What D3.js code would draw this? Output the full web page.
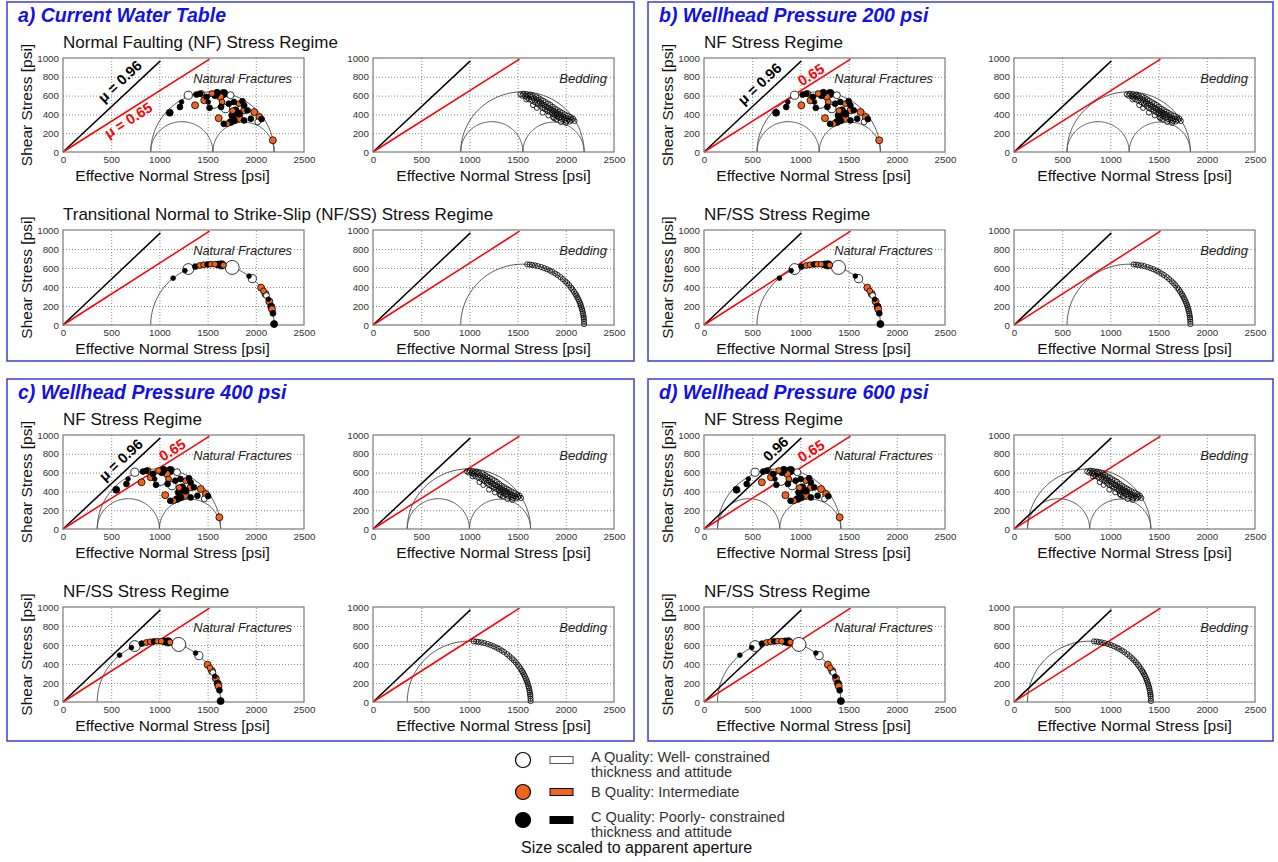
<!DOCTYPE html>
<html>
<head>
<meta charset="utf-8">
<script src="https://cdn.jsdelivr.net/npm/d3@7"></script>
<style>
  body { margin: 0; background: #fff; }
  text { font-family: Arial, "Liberation Sans", sans-serif; }
</style>
</head>
<body>
<svg id="fig" width="1278" height="862"></svg>
<script>
// ---- data ----
const panelTitles = ["a) Current Water Table", "b) Wellhead Pressure 200 psi",
                     "c) Wellhead Pressure 400 psi", "d) Wellhead Pressure 600 psi"];
const regimeTitles = [
  ["Normal Faulting (NF) Stress Regime", "Transitional Normal to Strike-Slip (NF/SS) Stress Regime"],
  ["NF Stress Regime", "NF/SS Stress Regime"],
  ["NF Stress Regime", "NF/SS Stress Regime"],
  ["NF Stress Regime", "NF/SS Stress Regime"]
];
// effective principal stresses [s3, s2, s1] per panel (psi)
const panelStress = [[910, 1555, 2190], [550, 1195, 1830], [355, 1000, 1635], [140, 785, 1420]];
// drop in effective normal stress relative to panel a (psi)
const panelShift = [0, 360, 555, 770];

const xTicks = [0, 500, 1000, 1500, 2000, 2500];
const yTicks = [0, 200, 400, 600, 800, 1000];
const frictionMu = [0.96, 0.65];
const frictionEnd = [1010, 1520];   // normal stress where each line stops

// natural fractures, NF regime (panel a): [normal stress, shear stress, quality, aperture]
const fracNF = [
  [1300, 604, "A", 1.7], [1563, 532, "A", 4.2], [1686, 461, "A", 1.7], [1738, 604, "A", 1.25],
  [2020, 320, "A", 0.87],
  [1437, 622, "B", 0.87], [1465, 550, "B", 1.25], [1370, 497, "B", 1.25], [1545, 622, "B", 0.87],
  [1633, 586, "B", 1.25], [1650, 532, "B", 0.87], [1808, 372, "B", 2.8], [1879, 443, "B", 1.25],
  [1984, 425, "B", 1.25], [2037, 372, "B", 1.25], [1703, 300, "B", 0.87], [1615, 360, "B", 1.25],
  [1826, 514, "B", 0.87], [1760, 440, "B", 0.87], [2177, 125, "B", 1.25],
  [1384, 611, "C", 0.87], [1489, 586, "C", 0.87], [1507, 532, "C", 0.56], [1213, 479, "C", 0.87],
  [1230, 532, "C", 0.56], [1107, 418, "C", 1.25], [1580, 604, "C", 1.25], [1668, 622, "C", 1.7],
  [1598, 630, "C", 1.25], [1420, 620, "C", 0.87], [1773, 532, "C", 0.87], [1720, 514, "C", 0.87],
  [1791, 443, "C", 1.25], [1826, 407, "C", 1.25], [1756, 390, "C", 1.25], [1914, 443, "C", 0.87],
  [1949, 354, "C", 0.87], [1879, 336, "C", 0.87], [1773, 336, "C", 1.25], [1668, 300, "C", 0.87],
  [1738, 318, "C", 1.25], [1861, 540, "C", 0.87], [1879, 496, "C", 0.87], [1640, 480, "C", 0.87],
  [2060, 350, "C", 0.87], [1520, 470, "C", 0.87]
];
// natural fractures, NF/SS regime (panel a)
const fracSS = [
  [1142, 493, "C", 0.56], [1265, 573, "C", 0.56], [1300, 589, "A", 3.0], [1372, 615, "C", 0.87],
  [1420, 627, "B", 0.87], [1460, 634, "B", 0.87], [1500, 638, "C", 0.87], [1535, 640, "B", 0.87],
  [1575, 640, "B", 0.87], [1610, 637, "C", 1.25], [1645, 633, "C", 1.7], [1665, 630, "B", 0.87],
  [1755, 606, "A", 5.0], [1930, 515, "C", 0.56], [1964, 488, "A", 1.7], [2055, 393, "B", 1.25],
  [2080, 359, "B", 0.87], [2100, 327, "B", 1.25], [2110, 310, "A", 0.87], [2130, 271, "C", 0.56],
  [2140, 248, "B", 1.25], [2160, 194, "C", 1.25], [2168, 166, "B", 1.25], [2178, 123, "C", 0.87],
  [2190, 10, "C", 1.25]
];
// bedding planes, NF regime (panel a): [normal stress, shear stress]
const bedNF = [
  [1530, 612], [1550, 600], [1560, 620], [1580, 595], [1590, 615], [1600, 580], [1610, 600],
  [1620, 560], [1630, 610], [1640, 585], [1650, 545], [1655, 600], [1670, 570], [1680, 530],
  [1690, 590], [1700, 555], [1710, 510], [1715, 575], [1725, 535], [1735, 490], [1740, 560],
  [1750, 515], [1760, 470], [1765, 545], [1775, 500], [1785, 455], [1790, 530], [1800, 480],
  [1810, 440], [1815, 515], [1825, 465], [1835, 425], [1840, 500], [1850, 450], [1860, 410],
  [1865, 480], [1875, 435], [1885, 395], [1890, 460], [1900, 420], [1910, 380], [1915, 445],
  [1925, 405], [1935, 365], [1940, 430], [1950, 390], [1960, 350], [1965, 415], [1975, 375],
  [1985, 340], [1990, 400], [2000, 360], [2010, 330], [2020, 385], [2030, 350], [2040, 325],
  [2050, 370], [2060, 340], [2075, 355], [2090, 330], [1900, 350], [1870, 370], [1950, 320],
  [2000, 310], [1700, 470], [1760, 420], [1820, 390], [1880, 360], [1590, 560], [1660, 500]
];
// bedding planes, NF/SS regime (panel a)
const bedSS = [
  [1600, 638], [1625, 636], [1650, 632], [1680, 627], [1710, 620], [1745, 610], [1775, 599],
  [1805, 587], [1835, 573], [1860, 560], [1890, 542], [1915, 526], [1945, 504], [1970, 483],
  [1995, 460], [2015, 440], [2035, 418], [2055, 393], [2070, 373], [2085, 351], [2100, 327],
  [2110, 310], [2120, 291], [2130, 271], [2140, 248], [2148, 228], [2155, 209], [2162, 187],
  [2168, 166], [2173, 147], [2178, 123], [2182, 101], [2185, 80], [2187, 62], [2189, 36],
  [2190, 10]
];

// ---- layout ----
const W = 1278, H = 862;
const panels = [[7, 2, 627, 359], [648, 2, 625, 359], [7, 379, 627, 362], [648, 379, 625, 362]];
const plotW = 241;
const subplots = [
  { x: 56, y: 56, h: 94, kind: "frac", row: 0 },
  { x: 366, y: 56, h: 94, kind: "bed", row: 0 },
  { x: 56, y: 228, h: 95, kind: "frac", row: 1 },
  { x: 366, y: 228, h: 95, kind: "bed", row: 1 }
];
// friction-line labels, placed in data units of the NF fracture plot
const muLabels = [
  [["μ = 0.96", 590, 750], ["μ = 0.65", 678, 338]],
  [["μ = 0.96", 577, 725], ["0.65", 1110, 821]],
  [["μ = 0.96", 600, 735], ["0.65", 1134, 840]],
  [["0.96", 744, 851], ["0.65", 1111, 830]]
];
const qualityFill = { A: "#ffffff", B: "#f0641e", C: "#000000" };
const lineColor = ["#000000", "#ff0000"];
const fontFam = "Arial, 'Liberation Sans', sans-serif";

const svg = d3.select("#fig");
svg.append("rect").attr("width", W).attr("height", H).attr("fill", "#fff");

const rScale = d3.scaleSqrt().domain([0, 5]).range([0, 7]);

function drawPlot(g, pi, sp) {
  const h = sp.h;
  const x = d3.scaleLinear().domain([0, 2500]).range([0, plotW]);
  const y = d3.scaleLinear().domain([0, 1000]).range([h, 0]);
  const pg = g.append("g").attr("transform", `translate(${sp.x},${sp.y})`);

  // dotted grid
  pg.append("g").attr("transform", `translate(0,${h})`)
    .call(d3.axisBottom(x).tickValues([500, 1000, 1500, 2000]).tickSize(-h).tickFormat(""))
    .call(a => a.select(".domain").remove())
    .call(a => a.selectAll("line").attr("stroke", "#8a8a8a").attr("stroke-dasharray", "1,2"));
  pg.append("g")
    .call(d3.axisLeft(y).tickValues([200, 400, 600, 800]).tickSize(-plotW).tickFormat(""))
    .call(a => a.select(".domain").remove())
    .call(a => a.selectAll("line").attr("stroke", "#8a8a8a").attr("stroke-dasharray", "1,2"));

  // tick labels
  pg.append("g").attr("transform", `translate(0,${h})`)
    .call(d3.axisBottom(x).tickValues(xTicks).tickFormat(d3.format("d")).tickSize(0).tickPadding(4))
    .call(a => a.select(".domain").remove())
    .call(a => a.selectAll("text").attr("font-size", 9.8).attr("fill", "#333").attr("font-family", fontFam));
  pg.append("g")
    .call(d3.axisLeft(y).tickValues(yTicks).tickFormat(d3.format("d")).tickSize(0).tickPadding(4))
    .call(a => a.select(".domain").remove())
    .call(a => a.selectAll("text").attr("font-size", 9.8).attr("fill", "#333").attr("font-family", fontFam));

  // Mohr circles
  const [s3, s2, s1] = panelStress[pi];
  const pairs = sp.row === 0 ? [[s3, s1], [s3, s2], [s2, s1]] : [[s3, s1]];
  const line = d3.line().x(d => x(d[0])).y(d => y(d[1]));
  pairs.forEach(([lo, hi]) => {
    const c = (lo + hi) / 2, r = (hi - lo) / 2;
    const pts = d3.range(0, 181, 2).map(a => [c + r * Math.cos(a * Math.PI / 180), r * Math.sin(a * Math.PI / 180)]);
    pg.append("path").attr("d", line(pts)).attr("fill", "none")
      .attr("stroke", "#555").attr("stroke-width", 1);
  });

  // friction lines
  frictionMu.forEach((mu, i) => {
    pg.append("path").attr("d", line([[0, 0], [frictionEnd[i], mu * frictionEnd[i]]]))
      .attr("fill", "none").attr("stroke", lineColor[i]).attr("stroke-width", 1.5);
  });

  // frame
  pg.append("rect").attr("width", plotW).attr("height", h)
    .attr("fill", "none").attr("stroke", "#7a7a7a").attr("stroke-width", 1.2);

  const shift = panelShift[pi];
  if (sp.kind === "frac") {
    const src = sp.row === 0 ? fracNF : fracSS;
    const pts = src.slice().sort((a, b) => b[3] - a[3]);
    pg.append("g").selectAll("circle").data(pts).join("circle")
      .attr("cx", d => x(d[0] - shift)).attr("cy", d => y(d[1]))
      .attr("r", d => rScale(d[3]))
      .attr("fill", d => qualityFill[d[2]])
      .attr("stroke", "#000").attr("stroke-width", 0.8);
    pg.append("text").attr("x", plotW - 12).attr("y", 25).attr("text-anchor", "end")
      .attr("font-style", "italic").attr("font-size", 12.8).attr("fill", "#222")
      .text("Natural Fractures");
  } else {
    const src = sp.row === 0 ? bedNF : bedSS;
    pg.append("g").selectAll("circle").data(src).join("circle")
      .attr("cx", d => x(d[0] - shift)).attr("cy", d => y(d[1]))
      .attr("r", 2.6).attr("fill", "none")
      .attr("stroke", "#000").attr("stroke-width", 0.8);
    pg.append("text").attr("x", plotW - 7).attr("y", 25).attr("text-anchor", "end")
      .attr("font-style", "italic").attr("font-size", 13).attr("fill", "#222")
      .text("Bedding");
  }

  // friction labels on the NF fracture plot
  if (sp.kind === "frac" && sp.row === 0) {
    muLabels[pi].forEach((lab, i) => {
      const ang = Math.atan(frictionMu[i] * (h / 1000) / (plotW / 2500)) * 180 / Math.PI;
      pg.append("text")
        .attr("transform", `translate(${x(lab[1])},${y(lab[2])}) rotate(${-ang})`)
        .attr("text-anchor", "middle").attr("dominant-baseline", "central")
        .attr("font-weight", "bold").attr("font-size", 14.5).attr("fill", lineColor[i])
        .text(lab[0]);
    });
  }

  // axis titles
  const cx = sp.kind === "frac" ? plotW / 2 - 11 : plotW / 2;
  pg.append("text").attr("x", cx).attr("y", h + 28.5).attr("text-anchor", "middle")
    .attr("font-size", 15.5).attr("fill", "#111").text("Effective Normal Stress [psi]");
  if (sp.kind === "frac") {
    pg.append("text").attr("transform", `translate(-31,${h / 2}) rotate(-90)`)
      .attr("text-anchor", "middle").attr("font-size", 15.5).attr("fill", "#111")
      .text("Shear Stress [psi]");
    pg.append("text").attr("x", 0).attr("y", -10).attr("font-size", 17).attr("fill", "#111")
      .text(regimeTitles[pi][sp.row]);
  }
}

panels.forEach((p, pi) => {
  const g = svg.append("g").attr("transform", `translate(${p[0]},${p[1]})`);
  g.append("rect").attr("width", p[2]).attr("height", p[3])
    .attr("fill", "none").attr("stroke", "#3c3cdc").attr("stroke-width", 1.5);
  g.append("text").attr("x", 11).attr("y", 20)
    .attr("font-weight", "bold").attr("font-style", "italic").attr("font-size", 19.5)
    .attr("fill", "#1212e6").text(panelTitles[pi]);
  subplots.forEach(sp => drawPlot(g, pi, sp));
});

// ---- legend ----
const legendItems = [
  { q: "A", lines: ["A Quality: Well- constrained", "thickness and attitude"], y: 760 },
  { q: "B", lines: ["B Quality: Intermediate"], y: 792 },
  { q: "C", lines: ["C Quality: Poorly- constrained", "thickness and attitude"], y: 820 }
];
const lg = svg.append("g");
legendItems.forEach(it => {
  lg.append("circle").attr("cx", 523).attr("cy", it.y).attr("r", 7.5)
    .attr("fill", qualityFill[it.q]).attr("stroke", "#000").attr("stroke-width", 1.2);
  lg.append("rect").attr("x", 550).attr("y", it.y - 3.5).attr("width", 23).attr("height", 7)
    .attr("fill", qualityFill[it.q]).attr("stroke", it.q === "A" ? "#555" : "#000").attr("stroke-width", 1);
  const base = it.lines.length === 2 ? it.y + 2 : it.y + 5;
  it.lines.forEach((t, k) => {
    lg.append("text").attr("x", 591).attr("y", base + k * 15).attr("font-size", 14.6)
      .attr("fill", "#333").text(t);
  });
});
lg.append("text").attr("x", 521).attr("y", 853).attr("font-size", 16).attr("fill", "#111")
  .text("Size scaled to apparent aperture");
</script>
</body>
</html>
